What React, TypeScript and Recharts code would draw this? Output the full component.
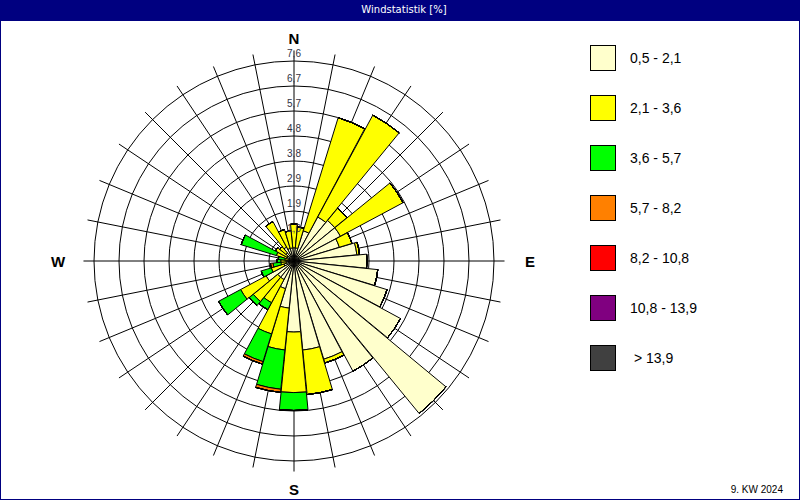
import React from "react";
import {
  PolarAngleAxis,
  PolarGrid,
  PolarRadiusAxis,
  RadialBar,
  RadialBarChart,
} from "recharts";

// 32 compass sectors, clockwise from north
const directions = [
  "N", "NbE", "NNE", "NEbN", "NE", "NEbE", "ENE", "EbN",
  "E", "EbS", "ESE", "SEbE", "SE", "SEbS", "SSE", "SbE",
  "S", "SbW", "SSW", "SWbS", "SW", "SWbW", "WSW", "WbS",
  "W", "WbN", "WNW", "NWbW", "NW", "NWbN", "NNW", "NbW",
];

// share of time [%] per speed class and sector
const speed1 = [0.5, 0.5, 1.2, 1.9, 2.0, 2.0, 1.8, 2.4, 2.77, 3.2, 3.7, 4.6, 7.5, 4.75, 3.9, 3.4, 2.7, 1.8, 1.1, 0.8, 0.8, 1.2, 0.4, 0.3, 0.3, 0.2, 0.3, 0.3, 0.4, 0.6, 0.5, 0.5];
const speed2 = [0.9, 0.8, 4.5, 4.4, 0.6, 2.7, 0.5, 0.1, 0, 0, 0, 0, 0, 0, 0.15, 1.7, 2.3, 1.6, 1.8, 1.0, 1.2, 1.1, 0.5, 0.2, 0.2, 0.15, 0.4, 0.5, 0.3, 1.1, 0.75, 0.65];
const speed3 = [0, 0, 0, 0, 0, 0, 0, 0, 0, 0, 0, 0, 0, 0, 0, 0, 0.68, 1.5, 1.1, 0.3, 0.2, 0.95, 0.4, 0.3, 0.15, 0.25, 1.4, 0, 0, 0, 0, 0];
const speed4 = [0, 0, 0, 0, 0, 0, 0, 0, 0, 0, 0, 0, 0, 0, 0, 0, 0, 0.12, 0.1, 0, 0, 0, 0, 0.1, 0, 0, 0, 0, 0, 0, 0, 0];
const speed5 = directions.map(() => 0);
const speed6 = directions.map(() => 0);
const speed7 = directions.map(() => 0);

const speedClasses = ["0,5 - 2,1", "2,1 - 3,6", "3,6 - 5,7", "5,7 - 8,2", "8,2 - 10,8", "10,8 - 13,9", " > 13,9"];
const classColors = ["#FFFFCC", "#FFFF00", "#00FF00", "#FF8000", "#FF0000", "#800080", "#404040"];

const ringTicks = [0, 0.95, 1.9, 2.85, 3.8, 4.75, 5.7, 6.65, 7.6];
const ringLabels = ["", "1,0", "1,9", "2,9", "3,8", "4,8", "5,7", "6,7", "7,6"];
const cardinals: Record<string, string> = { N: "N", E: "E", S: "S", W: "W" };

const series = [speed1, speed2, speed3, speed4, speed5, speed6, speed7];
const data = directions.map((dir, i) => {
  const row: Record<string, string | number> = { dir };
  series.forEach((values, j) => {
    row["c" + j] = values[i];
  });
  return row;
});

const CX = 294;
const CY = 261;
const RIM = 200; // pixel radius of the 7,6 ring
// the radius axis ends up niced to 0..8, so stretch the range until 7,6 lands on the rim
const OUTER = (RIM * 8) / 7.6;
const STEP = 360 / directions.length;
// recharts puts each band one step counter-clockwise of its tick, so start half a step right of north
const START = 90 - STEP / 2;
const gridAngles = directions.map((_, i) => 90 - i * STEP);

function CompassTick(props: any) {
  const value = props.payload?.value;
  const label = cardinals[value];
  if (!label) return null;
  const idx = directions.indexOf(value);
  const a = ((90 - idx * STEP) * Math.PI) / 180;
  const r = RIM + 23 + 13 * Math.abs(Math.cos(a)) + (Math.sin(a) < -0.5 ? 5 : 0);
  return (
    <text
      x={CX + r * Math.cos(a)}
      y={CY - r * Math.sin(a)}
      textAnchor="middle"
      dominantBaseline="central"
      fontFamily="Liberation Sans, Arial, sans-serif"
      fontWeight="bold"
      fontSize={15}
      fill="#000"
    >
      {label}
    </text>
  );
}

function RingTick(props: any) {
  const { x, y, payload } = props;
  const label = ringLabels[ringTicks.indexOf(payload?.value)];
  if (!label) return null;
  return (
    <text
      x={x}
      y={y - 4}
      textAnchor="middle"
      fontFamily="Liberation Sans, Arial, sans-serif"
      fontSize={10}
      fill="#333344"
    >
      {label}
    </text>
  );
}

export default function App() {
  return (
    <div
      style={{
        position: "absolute",
        left: 0,
        top: 0,
        width: 800,
        height: 500,
        background: "#fff",
        boxSizing: "border-box",
        border: "1px solid #000080",
        overflow: "hidden",
        fontFamily: "Liberation Sans, Arial, sans-serif",
      }}
    >
      <RadialBarChart
        layout="centric"
        width={800}
        height={500}
        data={data}
        cx={CX}
        cy={CY}
        innerRadius={0}
        outerRadius={OUTER}
        startAngle={START}
        endAngle={START - 360}
        barCategoryGap={0}
        barGap={0}
        margin={{ top: 0, right: 0, bottom: 0, left: 0 }}
        style={{ position: "absolute", left: -1, top: -1 }}
      >
        <PolarGrid
          gridType="circle"
          stroke="#000"
          strokeOpacity={1}
          outerRadius={RIM}
          polarAngles={gridAngles}
        />
        <PolarAngleAxis
          type="category"
          dataKey="dir"
          axisLine={false}
          tickLine={false}
          tick={<CompassTick />}
        />
        <PolarRadiusAxis
          type="number"
          angle={90}
          domain={[0, 8]}
          allowDataOverflow
          ticks={ringTicks}
          axisLine={false}
          tickLine={false}
          tick={<RingTick />}
        />
        {series.map((_, j) => (
          <RadialBar
            key={j}
            dataKey={"c" + j}
            stackId="wind"
            fill={classColors[j]}
            stroke="#000"
            strokeWidth={1}
            isAnimationActive={false}
          />
        ))}
      </RadialBarChart>

      <div
        style={{
          position: "absolute",
          left: -1,
          top: -1,
          width: 800,
          height: 21,
          background: "#000080",
          color: "#fff",
          fontFamily: "DejaVu Sans, sans-serif",
          fontSize: 10,
          lineHeight: "20px",
          textAlign: "center",
          paddingLeft: 8,
          boxSizing: "border-box",
        }}
      >
        Windstatistik [%]
      </div>

      {speedClasses.map((name, i) => (
        <div key={name}>
          <div
            style={{
              position: "absolute",
              left: 589,
              top: 44 + i * 50,
              width: 24,
              height: 24,
              background: classColors[i],
              border: "1px solid #000",
            }}
          />
          <div
            style={{
              position: "absolute",
              left: 629,
              top: 48 + i * 50,
              fontSize: 14,
              lineHeight: "18px",
              color: "#000",
              whiteSpace: "pre",
            }}
          >
            {name}
          </div>
        </div>
      ))}

      <div
        style={{
          position: "absolute",
          right: 16,
          top: 483,
          fontSize: 10,
          color: "#000",
        }}
      >
        9. KW 2024
      </div>
    </div>
  );
}
